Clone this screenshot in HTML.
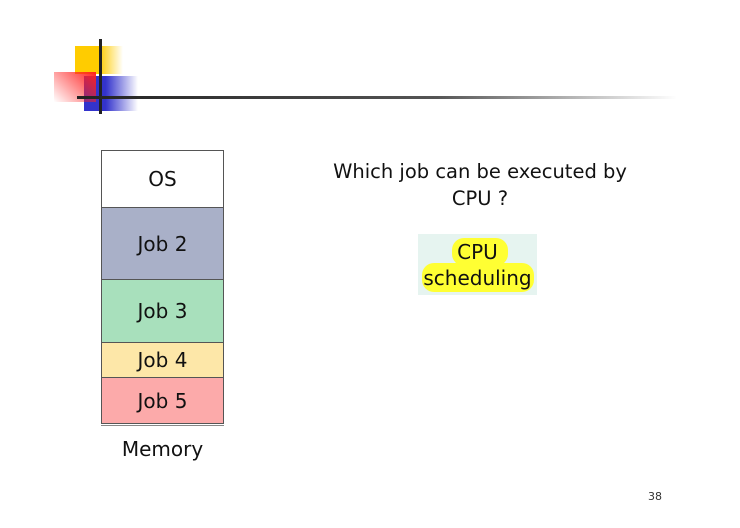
<!DOCTYPE html>
<html><head><style>
body{margin:0;width:740px;height:528px;background:#fff;position:relative;overflow:hidden;font-family:"DejaVu Sans","Liberation Sans",sans-serif;}
.a{position:absolute}
.blk{position:absolute;left:101px;width:123px;border:1px solid #555;box-sizing:border-box;display:flex;align-items:center;justify-content:center;font-size:20px;color:#111}
</style></head><body>
<div class="a" style="left:75px;top:46px;width:48px;height:28px;background:linear-gradient(90deg,#ffcc00 0,#ffcc00 50%,rgba(255,204,0,0) 100%)"></div>
<div class="a" style="left:84px;top:76px;width:54px;height:35px;background:linear-gradient(90deg,#3333cc 0,#3333cc 40%,rgba(51,51,204,0) 100%)"></div>
<div class="a" style="left:54px;top:72px;width:42px;height:30px;background:linear-gradient(45deg,rgba(255,80,80,0) 0,#ff2020 100%)"></div>
<div class="a" style="left:99px;top:39px;width:3px;height:75px;background:#222"></div>
<div class="a" style="left:77px;top:96px;width:600px;height:3px;background:linear-gradient(90deg,#222 0,#555 60%,rgba(150,150,150,0) 100%)"></div>

<div class="blk" style="top:150px;height:58px;background:#fff">OS</div>
<div class="blk" style="top:207px;height:73px;background:#a9b0c8">Job 2</div>
<div class="blk" style="top:279px;height:64px;background:#a8e0bc">Job 3</div>
<div class="blk" style="top:342px;height:36px;background:#fde7a8">Job 4</div>
<div class="blk" style="top:377px;height:47px;background:#fcaaaa">Job 5</div>
<div class="a" style="left:101px;top:425px;width:123px;height:1px;background:#888"></div>
<div class="a" style="left:101px;top:437px;width:123px;text-align:center;font-size:20px;color:#111">Memory</div>

<div class="a" style="left:320px;top:158px;width:320px;text-align:center;font-size:19.5px;line-height:27px;color:#111">Which job can be executed by<br>CPU ?</div>

<div class="a" style="left:418px;top:234px;width:119px;height:61px;background:#e6f4f0"></div>
<div class="a" style="left:452px;top:238px;width:56px;height:28px;background:#ffff33;border-radius:12px"></div>
<div class="a" style="left:422px;top:263px;width:112px;height:29px;background:#ffff33;border-radius:12px"></div>
<div class="a" style="left:418px;top:239px;width:119px;text-align:center;font-size:20px;line-height:26px;color:#111">CPU<br>scheduling</div>

<div class="a" style="left:648px;top:490px;font-size:11px;color:#333">38</div>
</body></html>
